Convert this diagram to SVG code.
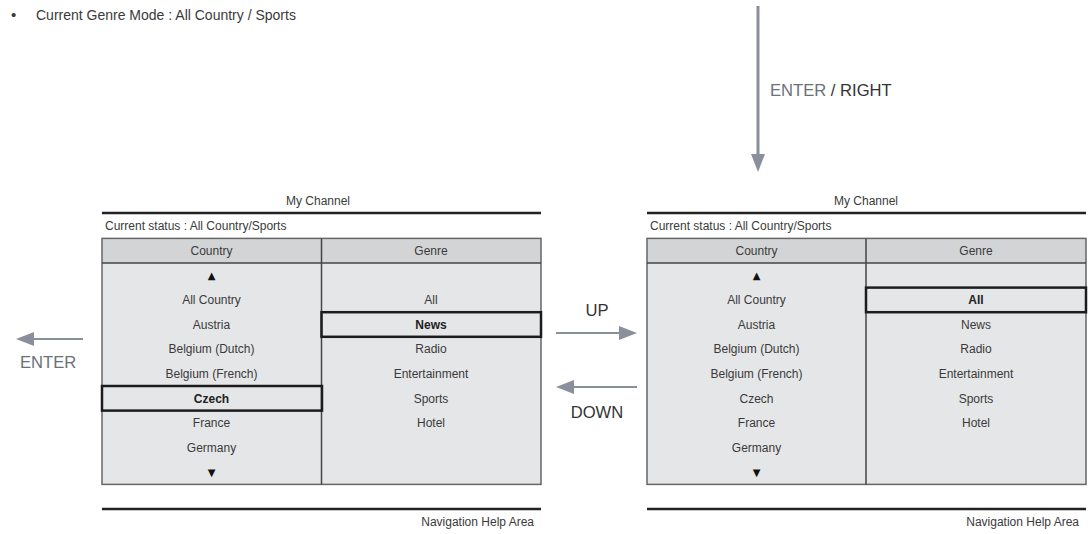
<svg xmlns="http://www.w3.org/2000/svg" width="1090" height="534" viewBox="0 0 1090 534">
<style>
text{font-family:"Liberation Sans",Arial,sans-serif;fill:#3a3a3a}
.t12{font-size:12px}
.c{text-anchor:middle}
.r{text-anchor:end}
.b{font-weight:bold;fill:#222}
.lbl{font-size:16.6px;fill:#333}
.ent{fill:#6c7079}
.head{fill:#d3d4d6}
.body{fill:#e5e6e8}
.border{fill:none;stroke:#666;stroke-width:1.5}
.div{stroke:#444;stroke-width:1.5}
.thick{stroke:#222;stroke-width:2.6}
.hl{fill:none;stroke:#1c1c1c;stroke-width:2.5}
.tri{font-family:"DejaVu Sans",sans-serif;font-size:10px;fill:#111}
.arr{stroke:#8a8f9b;fill:none}
</style>
<defs>
<marker id="ah" viewBox="0 0 18 14" markerWidth="18" markerHeight="14" refX="0" refY="7" orient="auto" markerUnits="userSpaceOnUse">
<path d="M0,0 L18,7 L0,14 Z" fill="#8a8f9b"/>
</marker>
</defs>

<g id="note">
<text x="11" y="20" style="font-size:15px">•</text>
<text x="36" y="20" style="font-size:14px">Current Genre Mode : All Country / Sports</text>
</g>

<g id="panel-left">
<text class="t12 c" x="318" y="205">My Channel</text>
<line class="thick" x1="102" y1="213" x2="541" y2="213"/>
<text class="t12" x="105" y="230">Current status : All Country/Sports</text>
<rect class="head" x="102" y="238.4" width="439" height="24.6"/>
<rect class="body" x="102" y="263" width="439" height="221.4"/>
<rect class="border" x="102" y="238.4" width="439" height="246"/>
<line class="div" x1="102" y1="263" x2="541" y2="263"/>
<line class="div" x1="321.5" y1="238.4" x2="321.5" y2="484.4"/>
<text class="t12 c" x="211.5" y="255">Country</text>
<text class="t12 c" x="431" y="255">Genre</text>
<text class="tri c" x="211.5" y="279">▲</text>
<text class="t12 c" x="211.5" y="304">All Country</text>
<text class="t12 c" x="211.5" y="328.5">Austria</text>
<text class="t12 c" x="211.5" y="353">Belgium (Dutch)</text>
<text class="t12 c" x="211.5" y="378">Belgium (French)</text>
<text class="t12 c b" x="211.5" y="402.5">Czech</text>
<text class="t12 c" x="211.5" y="427">France</text>
<text class="t12 c" x="211.5" y="451.5">Germany</text>
<text class="tri c" x="211.5" y="476">▼</text>
<text class="t12 c" x="431" y="304">All</text>
<text class="t12 c b" x="431" y="328.5">News</text>
<text class="t12 c" x="431" y="353">Radio</text>
<text class="t12 c" x="431" y="378">Entertainment</text>
<text class="t12 c" x="431" y="402.5">Sports</text>
<text class="t12 c" x="431" y="427">Hotel</text>
<rect class="hl" x="102" y="386" width="220" height="24.6"/>
<rect class="hl" x="321.5" y="312.2" width="219.5" height="24.6"/>
<line class="thick" x1="102" y1="509" x2="541" y2="509"/>
<text class="t12 r" x="534" y="526">Navigation Help Area</text>
</g>

<g id="panel-right">
<text class="t12 c" x="866" y="205">My Channel</text>
<line class="thick" x1="647" y1="213" x2="1086" y2="213"/>
<text class="t12" x="650" y="230">Current status : All Country/Sports</text>
<rect class="head" x="647" y="238.4" width="439" height="24.6"/>
<rect class="body" x="647" y="263" width="439" height="221.4"/>
<rect class="border" x="647" y="238.4" width="439" height="246"/>
<line class="div" x1="647" y1="263" x2="1086" y2="263"/>
<line class="div" x1="866" y1="238.4" x2="866" y2="484.4"/>
<text class="t12 c" x="756.5" y="255">Country</text>
<text class="t12 c" x="976" y="255">Genre</text>
<text class="tri c" x="756.5" y="279">▲</text>
<text class="t12 c" x="756.5" y="304">All Country</text>
<text class="t12 c" x="756.5" y="328.5">Austria</text>
<text class="t12 c" x="756.5" y="353">Belgium (Dutch)</text>
<text class="t12 c" x="756.5" y="378">Belgium (French)</text>
<text class="t12 c" x="756.5" y="402.5">Czech</text>
<text class="t12 c" x="756.5" y="427">France</text>
<text class="t12 c" x="756.5" y="451.5">Germany</text>
<text class="tri c" x="756.5" y="476">▼</text>
<text class="t12 c b" x="976" y="304">All</text>
<text class="t12 c" x="976" y="328.5">News</text>
<text class="t12 c" x="976" y="353">Radio</text>
<text class="t12 c" x="976" y="378">Entertainment</text>
<text class="t12 c" x="976" y="402.5">Sports</text>
<text class="t12 c" x="976" y="427">Hotel</text>
<rect class="hl" x="866" y="287.6" width="220" height="24.6"/>
<line class="thick" x1="647" y1="509" x2="1086" y2="509"/>
<text class="t12 r" x="1079" y="526">Navigation Help Area</text>
</g>

<g id="connectors">
<line class="arr" x1="758" y1="6" x2="758" y2="154" stroke-width="3" marker-end="url(#ah)"/>
<line class="arr" x1="83" y1="339" x2="34" y2="339" stroke-width="2.2" marker-end="url(#ah)"/>
<line class="arr" x1="556" y1="333" x2="619" y2="333" stroke-width="2.2" marker-end="url(#ah)"/>
<line class="arr" x1="637" y1="387" x2="574" y2="387" stroke-width="2.2" marker-end="url(#ah)"/>
</g>

<g id="labels">
<text class="lbl" x="770" y="96"><tspan class="ent">ENTER</tspan> / RIGHT</text>
<text class="lbl ent" x="20" y="368">ENTER</text>
<text class="lbl c" x="597" y="316">UP</text>
<text class="lbl c" x="597" y="418">DOWN</text>
</g>
</svg>
